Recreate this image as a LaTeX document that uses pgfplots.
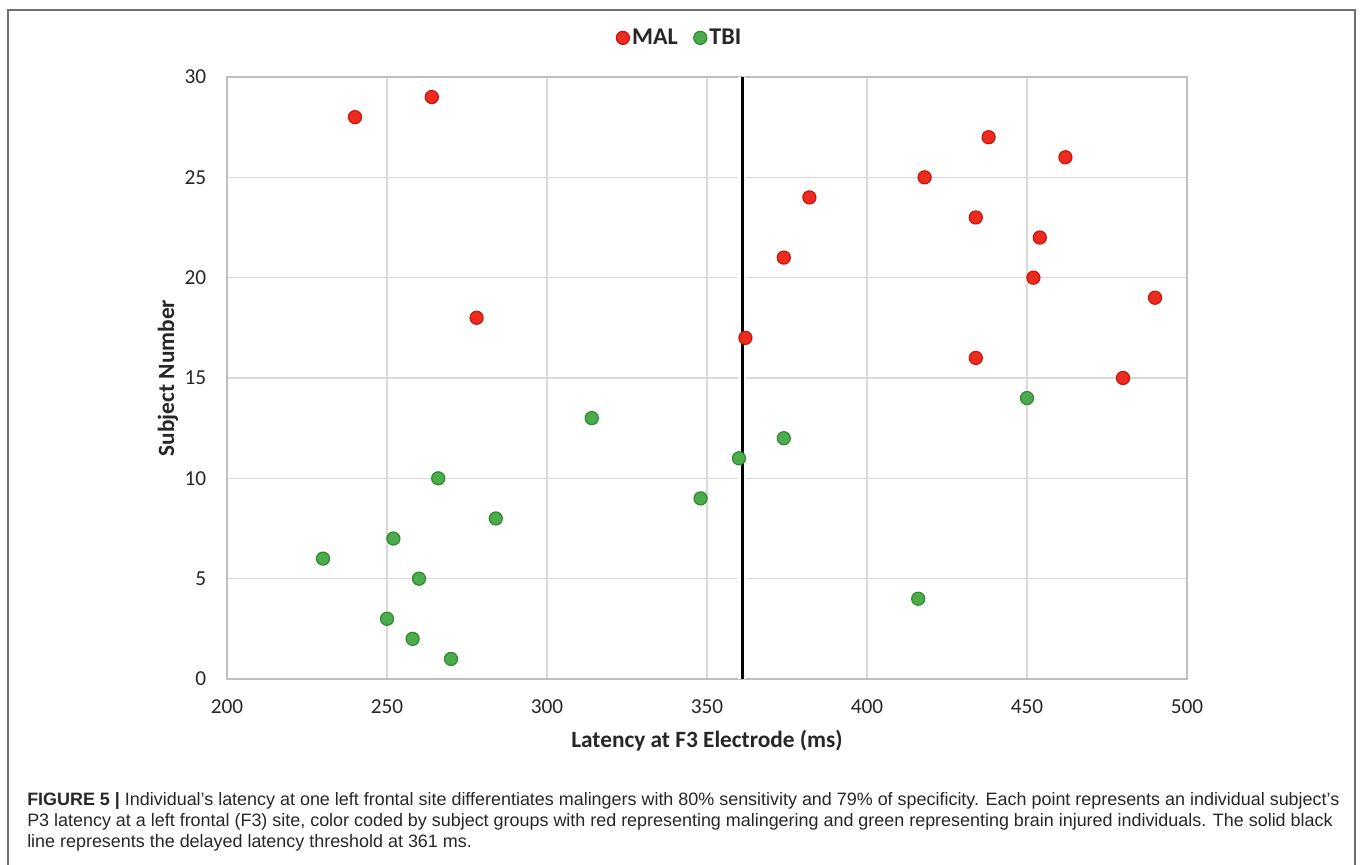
\documentclass[border=0pt]{standalone}
\usepackage{fontspec}
\setmainfont{Carlito}
\newfontfamily\capfont{Liberation Sans}
\usepackage{pgfplots}
\pgfplotsset{compat=1.18}
\definecolor{malfill}{HTML}{EE2B1F}
\definecolor{maldraw}{HTML}{C8160C}
\definecolor{tbifill}{HTML}{4CAB4C}
\definecolor{tbidraw}{HTML}{2A8C2A}
\definecolor{gridc}{HTML}{D9D9D9}
\definecolor{axisc}{HTML}{BFBFBF}
\definecolor{framec}{HTML}{707070}
\begin{document}
\begin{tikzpicture}[x=0.75pt,y=0.75pt]
\useasboundingbox (0,0) rectangle (1360,864);
\draw[framec, line width=1.6pt] (8,-20) -- (8,854) -- (1355,854) -- (1355,-20);
\begin{axis}[
  at={(170.25pt,138.75pt)}, anchor=south west,
  scale only axis, width=720pt, height=451.5pt,
  xmin=200, xmax=500, ymin=0, ymax=30,
  xtick={200,250,...,500}, ytick={0,5,...,30},
  grid=major, grid style={gridc, line width=1.1pt},
  axis line style={axisc, line width=1.1pt},
  major tick length=0pt,
  /pgf/number format/assume math mode=true,
  tick label style={font=\fontsize{16}{19}\selectfont, text=black!85},
  xticklabel style={yshift=-12pt},
  yticklabel style={xshift=-12pt},
  xlabel={Latency at F3 Electrode (ms)},
  ylabel={Subject Number},
  xlabel style={font=\bfseries\fontsize{17.5}{20}\selectfont, text=black!85, at={(axis description cs:0.5,-0.103)}, anchor=center},
  ylabel style={font=\bfseries\fontsize{17.5}{20}\selectfont, text=black!85, at={(axis description cs:-0.0615,0.5)}, anchor=center},
  legend style={at={(axis description cs:0.472,1.065)}, anchor=center, draw=none, fill=none,
    font=\bfseries\fontsize{18}{21}\selectfont, text=black!85,
    /tikz/every even column/.append style={column sep=10pt}},
  legend columns=2,
  legend image code/.code={\draw[#1] plot coordinates {(0.05cm,0cm)};},
]
\addplot[white, line width=6pt, forget plot] coordinates {(361,0) (361,30)};
\addplot[black, line width=2pt, forget plot] coordinates {(361,0) (361,30)};
\addplot[only marks, mark=*, mark size=4.9pt, mark options={fill=malfill, draw=maldraw, line width=0.9pt}]
  coordinates {(240,28)(264,29)(278,18)(362,17)(374,21)(382,24)(418,25)(434,23)(434,16)(438,27)(452,20)(454,22)(462,26)(480,15)(490,19)};
\addlegendentry{MAL}
\addplot[only marks, mark=*, mark size=4.9pt, mark options={fill=tbifill, draw=tbidraw, line width=0.9pt}]
  coordinates {(230,6)(250,3)(252,7)(258,2)(260,5)(266,10)(270,1)(284,8)(314,13)(348,9)(360,11)(374,12)(416,4)(450,14)};
\addlegendentry{TBI}
\end{axis}
\node[anchor=north west, inner sep=0pt, align=left, font=\capfont\fontsize{13.45}{16}\selectfont, text=black!85] at (27,72)
{\textbf{FIGURE 5 |} Individual’s latency at one left frontal site differentiates malingers with 80\% sensitivity and 79\% of specificity. Each point represents an individual subject’s\\
P3 latency at a left frontal (F3) site, color coded by subject groups with red representing malingering and green representing brain injured individuals. The solid black\\
line represents the delayed latency threshold at 361 ms.};
\end{tikzpicture}
\end{document}
